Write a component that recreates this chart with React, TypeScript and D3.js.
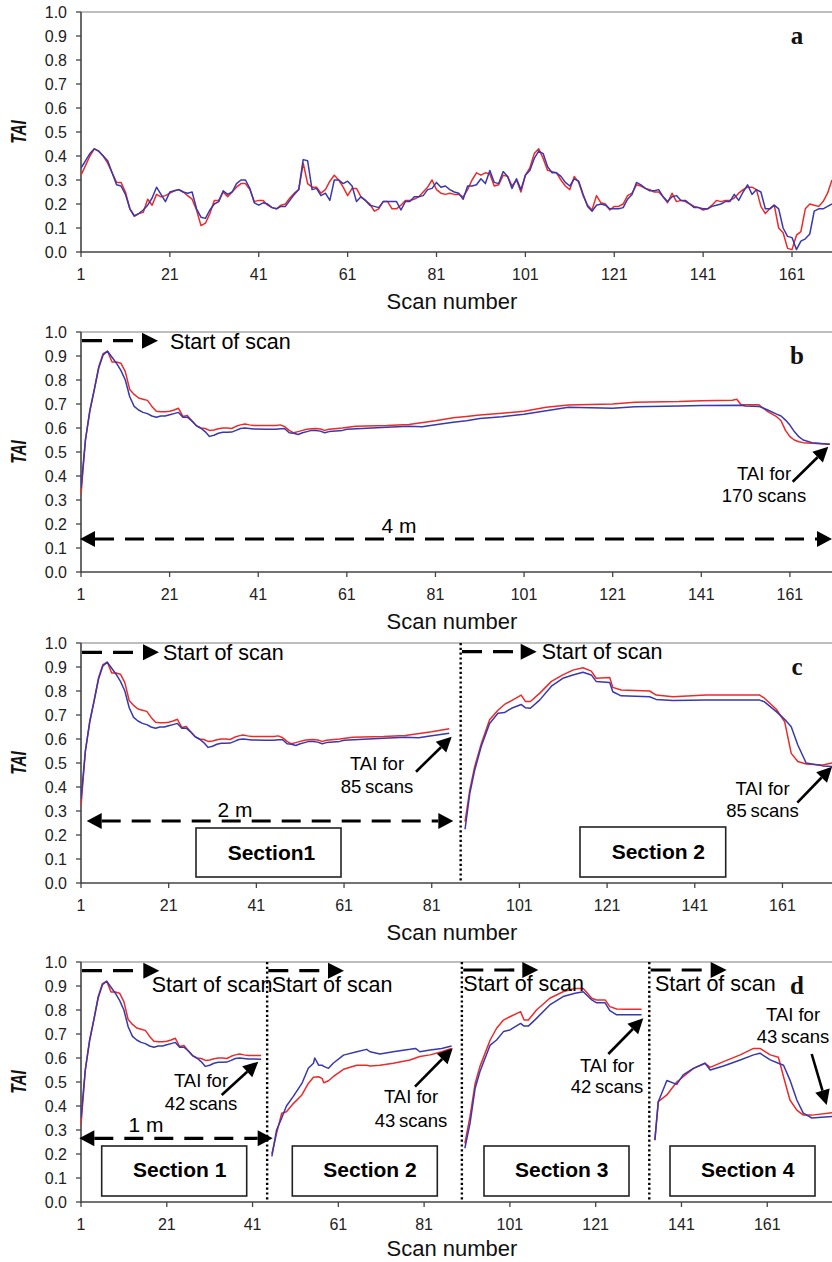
import * as d3 from "d3";
import { useEffect, useRef } from "react";

const scanTicks = [1, 21, 41, 61, 81, 101, 121, 141, 161];
const taiTicks = [0, 0.1, 0.2, 0.3, 0.4, 0.5, 0.6, 0.7, 0.8, 0.9, 1.0];

// panel a: TAI of each single scan, scans 1..170
const singleRed = [
  0.32, 0.36, 0.4, 0.43, 0.42, 0.4, 0.37, 0.33, 0.29, 0.29,
  0.25, 0.18, 0.15, 0.16, 0.165, 0.22, 0.195, 0.24, 0.23, 0.235,
  0.245, 0.255, 0.26, 0.25, 0.235, 0.22, 0.175, 0.11, 0.12, 0.16,
  0.215, 0.215, 0.25, 0.23, 0.25, 0.27, 0.285, 0.285, 0.26, 0.21,
  0.215, 0.215, 0.195, 0.185, 0.18, 0.195, 0.2, 0.225, 0.245, 0.26,
  0.37, 0.285, 0.27, 0.27, 0.245, 0.26, 0.295, 0.32, 0.3, 0.27,
  0.235, 0.265, 0.265, 0.23, 0.215, 0.2, 0.17, 0.18, 0.21, 0.21,
  0.18, 0.18, 0.195, 0.215, 0.215, 0.22, 0.23, 0.25, 0.27, 0.3,
  0.26, 0.245, 0.24, 0.245, 0.24, 0.24, 0.23, 0.26, 0.3, 0.33,
  0.32, 0.33, 0.325, 0.275, 0.28, 0.32, 0.315, 0.275, 0.3, 0.25,
  0.32, 0.35, 0.41, 0.43, 0.39, 0.34, 0.335, 0.33, 0.3, 0.275,
  0.26, 0.315, 0.29, 0.235, 0.195, 0.175, 0.235, 0.205, 0.2, 0.175,
  0.19, 0.19, 0.2, 0.235, 0.245, 0.28, 0.275, 0.265, 0.26, 0.25,
  0.25, 0.23, 0.205, 0.245, 0.21, 0.215, 0.21, 0.2, 0.19, 0.185,
  0.175, 0.18, 0.195, 0.215, 0.21, 0.215, 0.215, 0.225, 0.245, 0.26,
  0.27, 0.27, 0.26, 0.19, 0.16, 0.18, 0.195, 0.1, 0.08, 0.015,
  0.01, 0.07, 0.085, 0.18, 0.2, 0.195, 0.19, 0.21, 0.245, 0.3,
];
const singleBlue = [
  0.35, 0.38, 0.41, 0.43, 0.42, 0.4, 0.38, 0.33, 0.28, 0.275,
  0.24, 0.18, 0.15, 0.16, 0.175, 0.195, 0.225, 0.27, 0.24, 0.21,
  0.25, 0.255, 0.26, 0.25, 0.245, 0.25, 0.18, 0.145, 0.14, 0.175,
  0.2, 0.21, 0.255, 0.24, 0.25, 0.285, 0.3, 0.3, 0.265, 0.205,
  0.195, 0.205, 0.2, 0.185, 0.18, 0.19, 0.19, 0.215, 0.24, 0.26,
  0.385, 0.38, 0.26, 0.265, 0.235, 0.245, 0.215, 0.3, 0.3, 0.285,
  0.295, 0.275, 0.21, 0.23, 0.215, 0.195, 0.19, 0.185, 0.21, 0.21,
  0.21, 0.21, 0.175, 0.21, 0.21, 0.23, 0.23, 0.235, 0.26, 0.265,
  0.29, 0.27, 0.275, 0.26, 0.25, 0.245, 0.22, 0.275, 0.275, 0.28,
  0.305, 0.285, 0.34, 0.29, 0.285, 0.335, 0.315, 0.265, 0.305, 0.26,
  0.32, 0.34, 0.39, 0.42, 0.41, 0.355, 0.33, 0.33, 0.315, 0.29,
  0.275, 0.305, 0.295, 0.24, 0.19, 0.17, 0.195, 0.2, 0.195, 0.18,
  0.18, 0.18, 0.185, 0.22, 0.24, 0.29, 0.28, 0.265, 0.255, 0.255,
  0.26, 0.23, 0.21, 0.23, 0.235, 0.215, 0.215, 0.2, 0.185, 0.185,
  0.18, 0.18, 0.19, 0.195, 0.2, 0.21, 0.21, 0.24, 0.215, 0.25,
  0.28, 0.24, 0.26, 0.25, 0.18, 0.18, 0.195, 0.18, 0.1, 0.065,
  0.06, 0.01, 0.045, 0.055, 0.075, 0.17, 0.18, 0.18, 0.19, 0.2,
];

// panel b (and first sections of c, d): TAI over the scans so far, [scan, TAI]
const cumRed: [number, number][] = [
  [1, 0.32], [2, 0.55], [3, 0.675], [4, 0.76], [5, 0.855], [6, 0.91], [7, 0.92], [8, 0.875],
  [9, 0.875], [10, 0.87], [11, 0.835], [12, 0.76], [13, 0.74], [14, 0.725], [15, 0.72],
  [16, 0.715], [17, 0.69], [18, 0.67], [19, 0.668], [20, 0.668], [21, 0.67], [22, 0.675],
  [23, 0.682], [24, 0.648], [25, 0.652], [26, 0.63], [27, 0.61], [28, 0.6], [29, 0.598],
  [30, 0.59], [31, 0.592], [32, 0.597], [33, 0.6], [34, 0.6], [35, 0.598], [36, 0.607],
  [37, 0.613], [38, 0.617], [39, 0.613], [40, 0.61], [43, 0.61], [45, 0.61], [46, 0.613],
  [47, 0.605], [48, 0.59], [49, 0.58], [50, 0.585], [51, 0.59], [52, 0.595], [53, 0.597],
  [54, 0.598], [55, 0.596], [56, 0.59], [57, 0.595], [60, 0.6], [63, 0.607], [70, 0.61],
  [75, 0.615], [81, 0.63], [85, 0.643], [88, 0.648], [91, 0.654], [96, 0.661], [101, 0.67],
  [106, 0.686], [111, 0.696], [121, 0.7], [126, 0.707], [136, 0.71], [141, 0.714],
  [148, 0.716], [149, 0.72], [150, 0.697], [154, 0.697], [156, 0.668], [158, 0.647],
  [159, 0.63], [160, 0.59], [161, 0.564], [162, 0.55], [163, 0.543], [164, 0.539],
  [166, 0.536], [170, 0.532],
];
const cumBlue: [number, number][] = [
  [1, 0.35], [2, 0.55], [3, 0.67], [4, 0.76], [5, 0.85], [6, 0.905], [7, 0.92], [8, 0.895],
  [9, 0.87], [10, 0.84], [11, 0.8], [12, 0.73], [13, 0.69], [14, 0.675], [15, 0.665],
  [16, 0.66], [17, 0.65], [18, 0.645], [19, 0.65], [20, 0.65], [21, 0.655], [22, 0.66],
  [23, 0.665], [24, 0.645], [25, 0.645], [26, 0.63], [27, 0.61], [28, 0.6], [29, 0.585],
  [30, 0.565], [31, 0.57], [32, 0.578], [33, 0.582], [34, 0.582], [35, 0.583], [36, 0.59],
  [37, 0.598], [38, 0.6], [39, 0.598], [40, 0.596], [43, 0.595], [45, 0.595], [46, 0.597],
  [47, 0.597], [48, 0.58], [49, 0.578], [50, 0.573], [51, 0.58], [52, 0.585], [53, 0.59],
  [54, 0.59], [55, 0.587], [56, 0.58], [57, 0.585], [60, 0.59], [61, 0.595], [70, 0.603],
  [75, 0.607], [78, 0.605], [81, 0.614], [85, 0.624], [88, 0.63], [91, 0.64], [96, 0.647],
  [101, 0.657], [106, 0.672], [111, 0.686], [121, 0.682], [126, 0.689], [136, 0.692],
  [141, 0.694], [150, 0.695], [151, 0.692], [154, 0.69], [156, 0.675], [158, 0.658],
  [159, 0.65], [160, 0.633], [161, 0.612], [162, 0.585], [163, 0.564], [164, 0.55],
  [166, 0.539], [170, 0.532],
];

// panel c, section 2
const c2Red: [number, number][] = [
  [88.6, 0.256], [89.7, 0.39], [90.8, 0.485], [92.3, 0.58], [94.2, 0.68], [96.1, 0.72],
  [97.6, 0.744], [99.2, 0.76], [101.4, 0.783], [102.4, 0.756], [103.5, 0.756], [105.6, 0.79],
  [108.3, 0.84], [110.9, 0.867], [113.2, 0.887], [115.5, 0.897], [117.4, 0.883], [118.5, 0.853],
  [121.6, 0.856], [122.3, 0.815], [124.2, 0.804], [130.7, 0.8], [132.2, 0.783], [136, 0.776],
  [143.6, 0.783], [155.8, 0.783], [156.9, 0.77], [159.6, 0.724], [161.5, 0.672], [163, 0.54],
  [164.5, 0.506], [166.4, 0.496], [170.2, 0.492], [172.3, 0.5],
];
const c2Blue: [number, number][] = [
  [88.6, 0.224], [89.7, 0.375], [90.8, 0.47], [92.3, 0.57], [94.2, 0.665], [96.1, 0.707],
  [97.6, 0.71], [99.2, 0.728], [101.4, 0.744], [102.4, 0.73], [103.5, 0.728], [105.6, 0.762],
  [108.3, 0.82], [110.9, 0.853], [113.2, 0.867], [115.5, 0.878], [117.4, 0.867], [118.5, 0.84],
  [121.6, 0.835], [122.3, 0.797], [124.2, 0.78], [130.7, 0.776], [132.2, 0.765], [136, 0.76],
  [143.6, 0.762], [155.8, 0.762], [156.9, 0.755], [159.6, 0.714], [161.5, 0.682], [163, 0.651],
  [164.5, 0.575], [166.4, 0.5], [170.2, 0.488], [172.3, 0.485],
];

// panel d, sections 2-4
const d2Red: [number, number][] = [
  [45.5, 0.2], [46.6, 0.286], [47.8, 0.37], [48.9, 0.376], [50.5, 0.41], [52.5, 0.446],
  [54, 0.494], [55.2, 0.52], [56.4, 0.522], [57.2, 0.515], [57.6, 0.497], [58.7, 0.505],
  [59.8, 0.522], [62.2, 0.553], [65.3, 0.57], [67.6, 0.57], [68.4, 0.567], [70.7, 0.57],
  [73.8, 0.578], [77.7, 0.592], [80, 0.606], [82.4, 0.613], [85.1, 0.626], [87.4, 0.64],
];
const d2Blue: [number, number][] = [
  [45.5, 0.19], [46.6, 0.3], [47.8, 0.35], [48.9, 0.4], [50.5, 0.44], [52.5, 0.494],
  [54, 0.557], [55.2, 0.578], [55.5, 0.6], [56.4, 0.57], [57.2, 0.57], [57.6, 0.565],
  [58.7, 0.557], [59.8, 0.578], [62.2, 0.612], [65.3, 0.626], [67.6, 0.636], [68.4, 0.626],
  [70.7, 0.617], [73.8, 0.626], [77.7, 0.636], [79, 0.64], [80, 0.626], [82.4, 0.633],
  [85.1, 0.64], [87.4, 0.65],
];
const d3Red: [number, number][] = [
  [90.5, 0.244], [91.7, 0.356], [92.9, 0.494], [94, 0.564], [96.4, 0.675], [97.9, 0.724],
  [99.5, 0.758], [101, 0.772], [103.5, 0.793], [104.3, 0.758], [105.3, 0.758], [107.2, 0.8],
  [110.3, 0.849], [113.4, 0.876], [116.2, 0.89], [118.1, 0.89], [120.1, 0.849], [121.2, 0.842],
  [123.2, 0.842], [124.3, 0.814], [125.9, 0.804], [128.2, 0.803], [131.7, 0.803],
];
const d3Blue: [number, number][] = [
  [90.5, 0.224], [91.7, 0.328], [92.9, 0.474], [94, 0.543], [96.4, 0.654], [97.9, 0.675],
  [99.5, 0.71], [101, 0.717], [103.5, 0.744], [104.3, 0.733], [105.3, 0.733], [107.2, 0.765],
  [110.3, 0.821], [113.4, 0.856], [116.2, 0.87], [118.1, 0.876], [120.1, 0.842], [121.2, 0.83],
  [123.2, 0.83], [124.3, 0.797], [125.9, 0.78], [128.2, 0.78], [131.7, 0.78],
];
const d4Red: [number, number][] = [
  [134.8, 0.258], [135.6, 0.418], [137.6, 0.446], [139.9, 0.5], [141.4, 0.522], [143.8, 0.557],
  [146.5, 0.578], [147.7, 0.561], [150.8, 0.585], [154.7, 0.613], [157.8, 0.64], [159.3, 0.64],
  [161.7, 0.613], [163.6, 0.603], [164.8, 0.522], [166.3, 0.425], [167.9, 0.383], [169.4, 0.362],
  [171.4, 0.362], [176.1, 0.372],
];
const d4Blue: [number, number][] = [
  [134.8, 0.258], [135.6, 0.418], [137.6, 0.506], [139.9, 0.49], [141.4, 0.53], [143.8, 0.557],
  [146.5, 0.578], [147.7, 0.55], [150.8, 0.567], [154.7, 0.592], [157.8, 0.613], [159.3, 0.62],
  [161.7, 0.592], [163.6, 0.578], [164.8, 0.57], [166.3, 0.508], [167.9, 0.425], [169.4, 0.37],
  [171.4, 0.35], [176.1, 0.356],
];

const cBreaks = [87.6];
const dBreaks = [44.4, 89.8, 133.5];

const RED = "#ec2a2a";
const BLUE = "#3838b0";
const SANS = "'Liberation Sans', Arial, sans-serif";
const SERIF = "'Liberation Serif', 'Times New Roman', serif";

const LEFT = 81;
const RIGHT = 832;
const PH = 240;

type Sel = d3.Selection<SVGGElement, unknown, null, undefined>;

function head(g: Sel, x1: number, y1: number, x2: number, y2: number, len: number, hw: number) {
  const a = Math.atan2(y2 - y1, x2 - x1);
  const bx = x2 - len * Math.cos(a);
  const by = y2 - len * Math.sin(a);
  const px = -Math.sin(a) * hw;
  const py = Math.cos(a) * hw;
  g.append("path")
    .attr("d", `M${x2},${y2}L${bx + px},${by + py}L${bx - px},${by - py}Z`)
    .attr("fill", "#000");
  return [bx, by];
}

function startArrow(g: Sel, x1: number, x2: number, y: number, tx: number, ty: number) {
  const [bx] = head(g, x1, y, x2, y, 16, 8);
  g.append("line")
    .attr("x1", x1).attr("x2", bx).attr("y1", y).attr("y2", y)
    .attr("stroke", "#000").attr("stroke-width", 3.2)
    .attr("stroke-dasharray", "20,11");
  g.append("text").attr("x", tx).attr("y", ty)
    .attr("font-family", SANS).attr("font-size", 21.5).text("Start of scan");
}

function dimArrow(g: Sel, x1: number, x2: number, y: number, label: string, lx: number, ly: number) {
  const [bx2] = head(g, x1, y, x2, y, 15, 8);
  const [bx1] = head(g, x2, y, x1, y, 15, 8);
  g.append("line")
    .attr("x1", bx1).attr("x2", bx2).attr("y1", y).attr("y2", y)
    .attr("stroke", "#000").attr("stroke-width", 3.2)
    .attr("stroke-dasharray", "19,11");
  g.append("text").attr("x", lx).attr("y", ly).attr("text-anchor", "middle")
    .attr("font-family", SANS).attr("font-size", 21).text(label);
}

function note(g: Sel, cx: number, y1: number, y2: number, lines: string[], tail: number[], tip: number[]) {
  lines.forEach((t, i) => {
    g.append("text").attr("x", cx).attr("y", i === 0 ? y1 : y2).attr("text-anchor", "middle")
      .attr("font-family", SANS).attr("font-size", 18.5).text(t);
  });
  const [bx, by] = head(g, tail[0], tail[1], tip[0], tip[1], 15, 7.5);
  g.append("line")
    .attr("x1", tail[0]).attr("y1", tail[1]).attr("x2", bx).attr("y2", by)
    .attr("stroke", "#000").attr("stroke-width", 2.6);
}

function box(g: Sel, x1: number, x2: number, y1: number, y2: number, label: string, tx: number, ty: number) {
  g.append("rect").attr("x", x1).attr("y", y1).attr("width", x2 - x1).attr("height", y2 - y1)
    .attr("fill", "#fff").attr("stroke", "#222").attr("stroke-width", 1.6);
  g.append("text").attr("x", tx).attr("y", ty)
    .attr("font-family", SANS).attr("font-weight", "bold").attr("font-size", 21).text(label);
}

type Panel = {
  letter: string;
  top: number;
  xMax: number;
  series: { data: [number, number][]; color: string }[];
  breaks: number[];
  notes: (g: Sel, top: number) => void;
};

const panels: Panel[] = [
  {
    letter: "a",
    top: 12,
    xMax: 170,
    series: [
      { data: singleRed.map((v, i) => [i + 1, v] as [number, number]), color: RED },
      { data: singleBlue.map((v, i) => [i + 1, v] as [number, number]), color: BLUE },
    ],
    breaks: [],
    notes: () => {},
  },
  {
    letter: "b",
    top: 332,
    xMax: 170.5,
    series: [
      { data: cumRed, color: RED },
      { data: cumBlue, color: BLUE },
    ],
    breaks: [],
    notes: (g, t) => {
      startArrow(g, 82, 158, t + 8.7, 170, t + 17);
      dimArrow(g, 80, 832, t + 207, "4 m", 399, t + 201);
      note(g, 764, t + 148, t + 170, ["TAI for", "170 scans"], [792.7, t + 149.7], [828.3, t + 114.7]);
    },
  },
  {
    letter: "c",
    top: 643,
    xMax: 172.3,
    series: [
      { data: cumRed.filter((d) => d[0] <= 85), color: RED },
      { data: cumBlue.filter((d) => d[0] <= 85), color: BLUE },
      { data: c2Red, color: RED },
      { data: c2Blue, color: BLUE },
    ],
    breaks: cBreaks,
    notes: (g, t) => {
      startArrow(g, 82, 159, t + 9.3, 163, t + 17);
      startArrow(g, 462, 536.7, t + 8.7, 541.7, t + 16);
      dimArrow(g, 86.7, 453.3, t + 178, "2 m", 235, t + 173.7);
      note(g, 377, t + 127, t + 149.7, ["TAI for", "85\u2009scans"], [416, t + 128.7], [451.7, t + 93.7]);
      note(g, 762.5, t + 152, t + 174.3, ["TAI for", "85\u2009scans"], [797.3, t + 159.7], [832, t + 123.7]);
      box(g, 196, 341, t + 185, t + 234, "Section1", 227.7, t + 217);
      box(g, 580, 725.7, t + 184, t + 234, "Section 2", 611.7, t + 216);
    },
  },
  {
    letter: "d",
    top: 962,
    xMax: 176.1,
    series: [
      { data: cumRed.filter((d) => d[0] <= 43), color: RED },
      { data: cumBlue.filter((d) => d[0] <= 43), color: BLUE },
      { data: d2Red, color: RED },
      { data: d2Blue, color: BLUE },
      { data: d3Red, color: RED },
      { data: d3Blue, color: BLUE },
      { data: d4Red, color: RED },
      { data: d4Blue, color: BLUE },
    ],
    breaks: dBreaks,
    notes: (g, t) => {
      startArrow(g, 82, 159.3, t + 8.7, 151.7, t + 29.7);
      startArrow(g, 268.3, 344, t + 8.7, 271.7, t + 29.7);
      startArrow(g, 463.3, 538.3, t + 8, 463.3, t + 28.7);
      startArrow(g, 650.7, 726.7, t + 8, 655, t + 28.7);
      dimArrow(g, 79.3, 272.7, t + 176.3, "1 m", 146, t + 170.3);
      note(g, 201, t + 125, t + 148, ["TAI for", "42\u2009scans"], [221.7, t + 133], [258.3, t + 99.7]);
      note(g, 411, t + 141.3, t + 164.7, ["TAI for", "43\u2009scans"], [415, t + 124.7], [452.7, t + 86.3]);
      note(g, 607, t + 109.7, t + 131.3, ["TAI for", "42\u2009scans"], [608.3, t + 92], [643.3, t + 56.3]);
      note(g, 793, t + 58.7, t + 81.3, ["TAI for", "43\u2009scans"], [811.7, t + 92], [826.7, t + 143]);
      box(g, 101.7, 246.7, t + 184, t + 234, "Section 1", 133, t + 215.3);
      box(g, 292.3, 437.3, t + 184, t + 234, "Section 2", 323.3, t + 215.3);
      box(g, 484, 629, t + 184, t + 234, "Section 3", 515, t + 215.3);
      box(g, 670, 815, t + 184, t + 234, "Section 4", 701, t + 215.3);
    },
  },
];

function drawPanel(svg: d3.Selection<SVGSVGElement, unknown, null, undefined>, p: Panel, idx: number) {
  const top = p.top;
  const bottom = top + PH;
  const x = d3.scaleLinear().domain([1, p.xMax]).range([LEFT, RIGHT]);
  const y = d3.scaleLinear().domain([0, 1]).range([bottom, top]);
  const g = svg.append("g") as unknown as Sel;

  const clipId = `clip${idx}`;
  svg.append("clipPath").attr("id", clipId)
    .append("rect").attr("x", LEFT).attr("y", top - 2).attr("width", RIGHT - LEFT).attr("height", PH + 4);

  // frame
  g.append("line").attr("x1", LEFT).attr("x2", RIGHT).attr("y1", top).attr("y2", top)
    .attr("stroke", "#a8a8a8").attr("stroke-width", 1.5);

  // y axis
  taiTicks.forEach((v) => {
    g.append("line").attr("x1", LEFT - 5).attr("x2", LEFT).attr("y1", y(v)).attr("y2", y(v))
      .attr("stroke", "#444").attr("stroke-width", 1.3);
    g.append("text").attr("x", 67).attr("y", y(v) + 5.5).attr("text-anchor", "end")
      .attr("font-family", SANS).attr("font-size", 16).attr("fill", "#222")
      .text(v.toFixed(1));
  });
  // x axis
  scanTicks.forEach((s) => {
    g.append("line").attr("x1", x(s)).attr("x2", x(s)).attr("y1", bottom).attr("y2", bottom + 5)
      .attr("stroke", "#444").attr("stroke-width", 1.3);
    g.append("text").attr("x", x(s)).attr("y", bottom + 28).attr("text-anchor", "middle")
      .attr("font-family", SANS).attr("font-size", 16).attr("fill", "#222")
      .text(String(s));
  });
  g.append("line").attr("x1", LEFT).attr("x2", LEFT).attr("y1", top).attr("y2", bottom + 0.7)
    .attr("stroke", "#444").attr("stroke-width", 1.6);
  g.append("line").attr("x1", LEFT).attr("x2", RIGHT).attr("y1", bottom).attr("y2", bottom)
    .attr("stroke", "#444").attr("stroke-width", 1.6);

  // axis titles
  g.append("text").attr("x", 452).attr("y", Math.min(bottom + 57, 1256)).attr("text-anchor", "middle")
    .attr("font-family", SANS).attr("font-size", 22).attr("fill", "#111").text("Scan number");
  g.append("text")
    .attr("transform", `translate(26,${top + 120}) scale(1,0.7) rotate(-90)`)
    .attr("text-anchor", "middle")
    .attr("font-family", SANS).attr("font-size", 22).attr("font-weight", "bold")
    .attr("font-style", "italic").attr("fill", "#111").text("TAI");

  // section separators
  p.breaks.forEach((s) => {
    g.append("line").attr("x1", x(s)).attr("x2", x(s)).attr("y1", top).attr("y2", bottom)
      .attr("stroke", "#000").attr("stroke-width", 2.4).attr("stroke-dasharray", "2.2,2.6");
  });

  // data lines
  const line = d3.line<[number, number]>().x((d) => x(d[0])).y((d) => y(d[1]));
  const lg = g.append("g").attr("clip-path", `url(#${clipId})`);
  p.series.forEach((s) => {
    lg.append("path").attr("d", line(s.data) ?? "").attr("fill", "none")
      .attr("stroke", s.color).attr("stroke-width", 1.5).attr("stroke-linejoin", "round");
  });

  p.notes(g, top);

  g.append("text").attr("x", 797).attr("y", top + 32).attr("text-anchor", "middle")
    .attr("font-family", SERIF).attr("font-weight", "bold").attr("font-size", 25)
    .attr("fill", "#111").text(p.letter);
}

export default function App() {
  const ref = useRef<SVGSVGElement>(null);

  useEffect(() => {
    const svg = d3.select(ref.current as SVGSVGElement);
    svg.selectAll("*").remove();
    panels.forEach((p, i) => drawPanel(svg, p, i));
  }, []);

  return (
    <svg
      ref={ref}
      width={832}
      height={1262}
      style={{ position: "absolute", left: 0, top: 0, background: "#fff" }}
    />
  );
}
